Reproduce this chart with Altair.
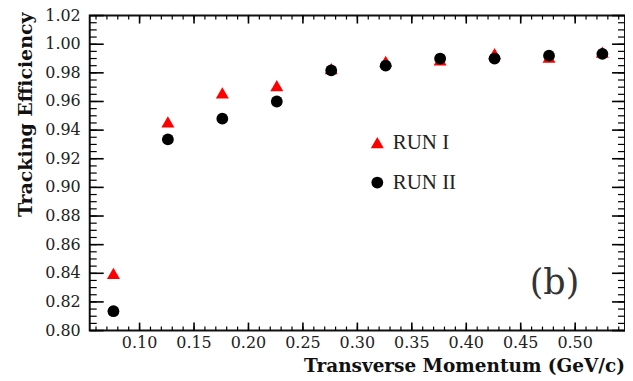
import altair as alt
import pandas as pd

# ---- data ----
pt = [0.076, 0.126, 0.176, 0.226, 0.276, 0.326, 0.376, 0.426, 0.476, 0.525]
run1 = [0.840, 0.9457, 0.966, 0.971, 0.983, 0.988, 0.989, 0.9935, 0.991, 0.9945]
run2 = [0.8135, 0.9335, 0.948, 0.960, 0.9817, 0.985, 0.990, 0.990, 0.992, 0.9933]
series = ["RUN I", "RUN II"]

# tick positions and labels
x_major = [0.10, 0.15, 0.20, 0.25, 0.30, 0.35, 0.40, 0.45, 0.50]
x_minor = [round(0.06 + 0.01 * i, 2) for i in range(49)]
y_major = [0.80, 0.82, 0.84, 0.86, 0.88, 0.90, 0.92, 0.94, 0.96, 0.98, 1.00, 1.02]
y_minor = [round(0.80 + 0.005 * i, 3) for i in range(45)]

x_title = ["Transverse Momentum (GeV/c)"]
y_title = ["Tracking Efficiency"]
label_text = ["(b)"]
label_x = [0.481]
label_y = [0.8334]

rows = []
for s, vals in zip(series, [run1, run2]):
    for x, v in zip(pt, vals):
        rows.append({"pt": x, "eff": v, "run": s})
df = pd.DataFrame(rows)
ann = pd.DataFrame({"x": label_x, "y": label_y, "t": label_text})

XD = [0.05423, 0.54577]
YD = [0.80, 1.02]
xs = alt.Scale(domain=XD, nice=False, zero=False)
ys = alt.Scale(domain=YD, nice=False, zero=False)

NUMFONT = "DejaVu Serif"
TITLEFONT = "DejaVu Serif"

pts = alt.Chart(df).mark_point(filled=True, opacity=1).encode(
    x=alt.X("pt:Q", scale=xs, axis=None),
    y=alt.Y("eff:Q", scale=ys, axis=None),
    color=alt.Color("run:N", scale=alt.Scale(domain=series, range=["#ff0000", "#000000"]),
                    legend=alt.Legend(title=None, orient="none", legendX=278, legendY=117,
                                      labelFont="Liberation Serif", labelFontSize=21,
                                      labelColor="#222", rowPadding=18, symbolSize=160,
                                      labelOffset=5, padding=0, symbolStrokeWidth=0)),
    shape=alt.Shape("run:N", scale=alt.Scale(domain=series, range=["triangle-up", "circle"])),
    size=alt.Size("run:N", scale=alt.Scale(domain=series, range=[170, 140]), legend=None),
    order=alt.Order("run:N"),
)

# tick marks drawn as stroked line symbols anchored on the frame edges
UP, DOWN, RIGHT, LEFT = "M0,0L0,-2", "M0,0L0,2", "M0,0L2,0", "M0,0L-2,0"


def xticks(name, values, length, width, edge, path):
    return alt.Chart(pd.DataFrame({name: values})).mark_point(
        shape=path, size=length * length, strokeWidth=width, color="#000",
        filled=False, opacity=1,
    ).encode(
        x=alt.X(f"{name}:Q", scale=xs, axis=None),
        y=alt.Y(datum=edge, scale=ys, axis=None),
    )


def yticks(name, values, length, width, edge, path):
    return alt.Chart(pd.DataFrame({name: values})).mark_point(
        shape=path, size=length * length, strokeWidth=width, color="#000",
        filled=False, opacity=1,
    ).encode(
        y=alt.Y(f"{name}:Q", scale=ys, axis=None),
        x=alt.X(datum=edge, scale=xs, axis=None),
    )


tick_layers = [
    xticks("bmin", x_minor, 4, 1.2, YD[0], UP),
    xticks("bmaj", x_major, 8, 1.6, YD[0], UP),
    xticks("tmin", x_minor, 4, 1.2, YD[1], DOWN),
    xticks("tmaj", x_major, 8, 1.6, YD[1], DOWN),
    yticks("lmin", y_minor, 7, 1.2, XD[0], RIGHT),
    yticks("lmaj", y_major, 14, 1.6, XD[0], RIGHT),
    yticks("rmin", y_minor, 7, 1.2, XD[1], LEFT),
    yticks("rmaj", y_major, 13, 1.6, XD[1], LEFT),
]

# tick labels (drawn through the shared scales)
xlab = alt.Chart(pd.DataFrame({"xl": x_major})).mark_text(
    font=NUMFONT, fontSize=16, color="#222", baseline="top", align="center", dy=5,
).encode(
    x=alt.X("xl:Q", scale=xs, axis=None),
    y=alt.Y(datum=YD[0], scale=ys, axis=None),
    text=alt.Text("xl:Q", format=".2f"),
)
ylab = alt.Chart(pd.DataFrame({"yl": y_major})).mark_text(
    font=NUMFONT, fontSize=16, color="#222", baseline="middle", align="right", dx=-9,
).encode(
    y=alt.Y("yl:Q", scale=ys, axis=None),
    x=alt.X(datum=XD[0], scale=xs, axis=None),
    text=alt.Text("yl:Q", format=".2f"),
)

# axis titles
xtit = alt.Chart(pd.DataFrame({"t": x_title})).mark_text(
    font=TITLEFONT, fontSize=18.5, fontWeight="bold", color="#111",
    align="right", baseline="middle", dy=36,
).encode(
    x=alt.X(datum=XD[1], scale=xs, axis=None),
    y=alt.Y(datum=YD[0], scale=ys, axis=None),
    text="t:N",
)
ytit = alt.Chart(pd.DataFrame({"t": y_title})).mark_text(
    font=TITLEFONT, fontSize=19, fontWeight="bold", color="#111",
    align="right", baseline="middle", angle=270, dx=3, dy=-64,
).encode(
    x=alt.X(datum=XD[0], scale=xs, axis=None),
    y=alt.Y(datum=YD[1], scale=ys, axis=None),
    text="t:N",
)

txt = alt.Chart(ann).mark_text(font="DejaVu Serif", fontSize=35, color="#333",
                               baseline="middle", align="center").encode(
    x=alt.X("x:Q", scale=xs, axis=None),
    y=alt.Y("y:Q", scale=ys, axis=None),
    text="t:N",
)

chart = alt.layer(xlab, ylab, xtit, ytit, txt, *tick_layers, pts).properties(
    width=537, height=316,
    autosize=alt.AutoSizeParams(type="none"),
    padding={"left": 82, "top": 7, "right": 0, "bottom": 47},
    background="white",
).configure_view(stroke="#111", strokeWidth=2)

chart.save("out.html", embed_options={"renderer": "svg", "actions": False})
